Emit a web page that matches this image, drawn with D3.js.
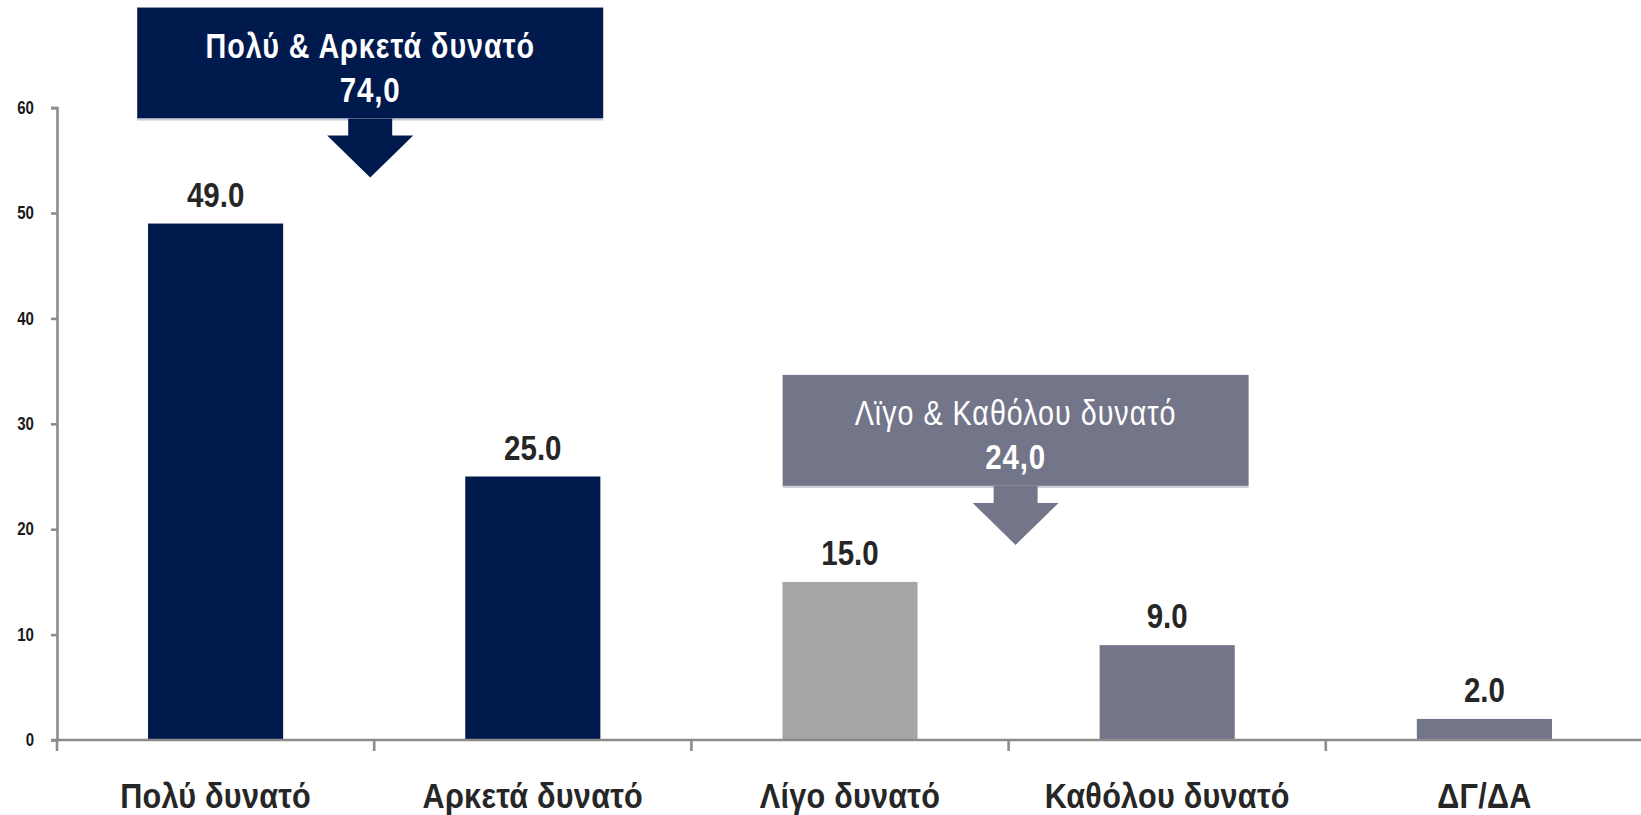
<!DOCTYPE html>
<html>
<head>
<meta charset="utf-8">
<script src="https://cdn.jsdelivr.net/npm/d3@7"></script>
<style>
  body { margin: 0; background: #fff; }
  svg { display: block; font-family: "Liberation Sans", Arial, sans-serif; }
</style>
</head>
<body>
<div id="chart"></div>
<script>
const categories = ["Πολύ δυνατό", "Αρκετά δυνατό", "Λίγο δυνατό", "Καθόλου δυνατό", "ΔΓ/ΔΑ"]
const values = [49, 25, 15, 9, 2]
const yTicks = [0, 10, 20, 30, 40, 50, 60]

// callouts: which bars they sum, their label and total
const calloutLabels = ["Πολύ & Αρκετά δυνατό", "Λϊγο & Καθόλου δυνατό"]
const calloutTotals = ["74,0", "24,0"]
const calloutMembers = [[0, 1], [2, 3]]

const barColors = ["#001a4e", "#001a4e", "#a6a6a6", "#737589", "#737589"]
const calloutColors = ["#001a4e", "#737589"]
const calloutGap = [46, 37]
const calloutShift = [-4, 7]

const WIDTH = 1641
const HEIGHT = 815
const MARGIN = { LEFT: 57, TOP: 107.6, BOTTOM: 75 }

const svg = d3.select("#chart")
  .append("svg")
    .attr("width", WIDTH)
    .attr("height", HEIGHT)

// no Arial Narrow installed: move x/y into a transform and squeeze Liberation Sans
function narrow(sel, k = 0.82) {
    sel.each(function () {
        const t = d3.select(this)
        const tx = +t.attr("x") || 0
        const ty = +t.attr("y") || 0
        t.attr("x", null).attr("y", null)
            .attr("transform", `translate(${tx},${ty}) scale(${k},1)`)
    })
}

const y = d3.scaleLinear()
    .domain([0, 60])
    .range([HEIGHT - MARGIN.BOTTOM, MARGIN.TOP])

const x = d3.scaleBand()
    .domain(categories)
    .range([MARGIN.LEFT, MARGIN.LEFT + 5 * 317.2])
    .padding(0)

const barW = x.bandwidth() * 0.426
const y0 = y(0)

// bars
svg.selectAll("rect.bar")
  .data(values)
  .enter().append("rect")
    .attr("class", "bar")
    .attr("x", (d, i) => x(categories[i]) + (x.bandwidth() - barW) / 2)
    .attr("y", d => y(d))
    .attr("width", barW)
    .attr("height", d => y0 - y(d))
    .attr("fill", (d, i) => barColors[i])

// value labels
svg.selectAll("text.val")
  .data(values)
  .enter().append("text")
    .attr("class", "val")
    .attr("x", (d, i) => x(categories[i]) + x.bandwidth() / 2)
    .attr("y", d => y(d) - 17)
    .attr("text-anchor", "middle")
    .attr("font-size", 36)
    .attr("font-weight", "bold")
    .attr("fill", "#262626")
    .text(d => d.toFixed(1))
    .call(narrow)

// y axis
const yAxis = svg.append("g")
    .attr("transform", `translate(${MARGIN.LEFT}, 0)`)
    .call(d3.axisLeft(y).tickValues(yTicks).tickSize(6).tickPadding(17))
yAxis.select(".domain").attr("stroke", "#8c8c8c").attr("stroke-width", 2.6)
yAxis.selectAll(".tick line").attr("stroke", "#8c8c8c").attr("stroke-width", 2.6)
yAxis.selectAll(".tick text")
    .attr("font-size", 17.5)
    .attr("font-weight", "bold")
    .attr("fill", "#1a1a1a")
    .attr("font-family", "Liberation Sans, Arial, sans-serif")
    .call(narrow, 0.86)

// x axis line and boundary ticks
const bounds = categories.map(c => x(c)).concat([x.range()[1]])
svg.append("line")
    .attr("x1", MARGIN.LEFT - 6).attr("x2", WIDTH)
    .attr("y1", y0).attr("y2", y0)
    .attr("stroke", "#8c8c8c").attr("stroke-width", 2.6)
svg.selectAll("line.xtick")
  .data(bounds)
  .enter().append("line")
    .attr("class", "xtick")
    .attr("x1", d => d).attr("x2", d => d)
    .attr("y1", y0).attr("y2", y0 + 11)
    .attr("stroke", "#8c8c8c").attr("stroke-width", 2.6)

// category labels
svg.selectAll("text.cat")
  .data(categories)
  .enter().append("text")
    .attr("class", "cat")
    .attr("x", d => x(d) + x.bandwidth() / 2)
    .attr("y", y0 + 68)
    .attr("text-anchor", "middle")
    .attr("font-size", 36)
    .attr("font-weight", "bold")
    .attr("letter-spacing", 0.3)
    .attr("fill", "#262626")
    .text(d => d)
    .call(narrow, 0.85)

// callouts
calloutLabels.forEach((label, k) => {
    const m = calloutMembers[k]
    const cx = (x(categories[m[0]]) + x(categories[m[1]])) / 2 + x.bandwidth() / 2 + calloutShift[k]
    const tip = y(d3.max(m, i => values[i])) - calloutGap[k]
    const headTop = tip - 42
    const boxBottom = headTop - 17
    const boxTop = boxBottom - 111
    const g = svg.append("g")
    g.append("rect")
        .attr("x", cx - 233).attr("y", boxTop)
        .attr("width", 466).attr("height", 111)
        .attr("fill", calloutColors[k])
    g.append("rect")
        .attr("x", cx - 233).attr("y", boxBottom)
        .attr("width", 466).attr("height", 2)
        .attr("fill", "#c9cbd8")
    g.append("path")
        .attr("d", `M${cx - 22},${boxBottom} L${cx + 22},${boxBottom} L${cx + 22},${headTop} L${cx + 43},${headTop} L${cx},${tip} L${cx - 43},${headTop} L${cx - 22},${headTop} Z`)
        .attr("fill", calloutColors[k])
    g.append("text")
        .attr("x", cx).attr("y", boxTop + 50)
        .attr("text-anchor", "middle")
        .attr("font-size", 35)
        .attr("font-weight", k === 0 ? "bold" : "normal")
        .attr("letter-spacing", 1.2)
        .attr("fill", "#fff")
        .text(label)
        .call(narrow)
    g.append("text")
        .attr("x", cx).attr("y", boxTop + 94)
        .attr("text-anchor", "middle")
        .attr("font-size", 36)
        .attr("font-weight", "bold")
        .attr("letter-spacing", 1)
        .attr("fill", "#fff")
        .text(calloutTotals[k])
        .call(narrow)
})
</script>
</body>
</html>
